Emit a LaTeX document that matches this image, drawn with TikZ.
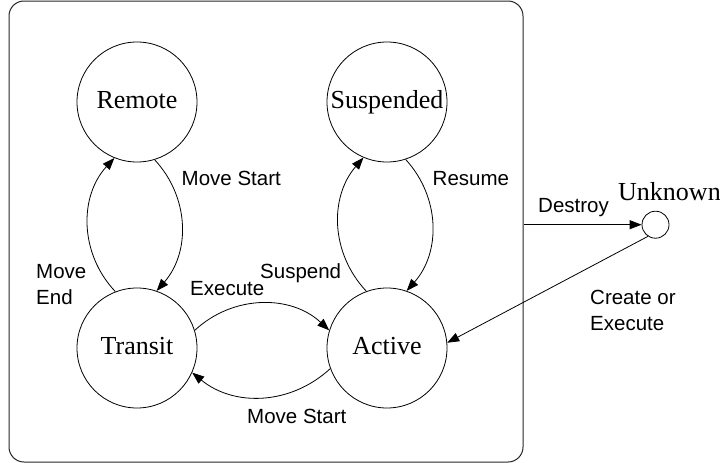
\documentclass[tikz,border=0pt]{standalone}
\usepackage{fontspec}
\setmainfont{Liberation Serif}
\newfontfamily\arialfont{Liberation Sans}
\usetikzlibrary{arrows.meta}
\begin{document}
\begin{tikzpicture}[x=1pt,y=-1pt,
  state/.style={draw, circle, line width=0.8pt, minimum size=120pt, inner sep=0pt,
    font=\fontsize{26}{30}\selectfont, text height=17pt, text depth=3.8pt},
  lbl/.style={font=\arialfont\fontsize{20.5}{26}\selectfont, inner sep=0pt, align=left, anchor=base west},
  trans/.style={draw, line width=0.8pt, -{Triangle[length=12pt,width=9pt]}},
]
\useasboundingbox (0,0) rectangle (720,463);
% container
\node (box) [draw, line width=1pt, draw=black!85, rounded corners=15pt, minimum width=514pt,
  minimum height=461pt, inner sep=0pt] at (266,231.5) {};
% states
\node[state] (remote) at (137,102) {Remote};
\node[state] (suspended) at (387,102) {Suspended};
\node[state] (transit) at (137,348) {Transit};
\node[state] (active) at (387,348) {Active};
\node[draw, circle, line width=0.8pt, minimum size=27pt, inner sep=0pt] (unk) at (655.5,224.7) {};
\node[font=\fontsize{26}{30}\selectfont, inner sep=0pt, anchor=base west] (unklbl) at (618,200) {Unknown};
% transitions
\draw[trans] (transit.111) to[bend left=43] (remote.248);
\draw[trans] (remote.287) to[bend left=42] (transit.71);
\draw[trans] (active.110) to[bend left=42] (suspended.247);
\draw[trans] (suspended.288) to[bend left=42] (active.71);
\draw[trans] (transit.17) to[bend left=43] (active.163);
\draw[trans] (active.200) to[bend left=41] (transit.336);
\draw[trans] (box.east |- unk) -- (unk);
\draw[trans] (unk.237) -- (active.5);
% labels
\node[lbl] (l1) at (181.5,185) {Move Start};
\node[lbl] (l2) at (432.5,185) {Resume};
\node[lbl] (l3) at (538,212) {Destroy};
\node[lbl] (l4) at (36,304) {Move\\End};
\node[lbl] (l5) at (260,278) {Suspend};
\node[lbl] (l6) at (190,295) {Execute};
\node[lbl] (l7) at (247,423.5) {Move Start};
\node[lbl] (l8) at (590,330.5) {Create or\\Execute};
\end{tikzpicture}
\end{document}
